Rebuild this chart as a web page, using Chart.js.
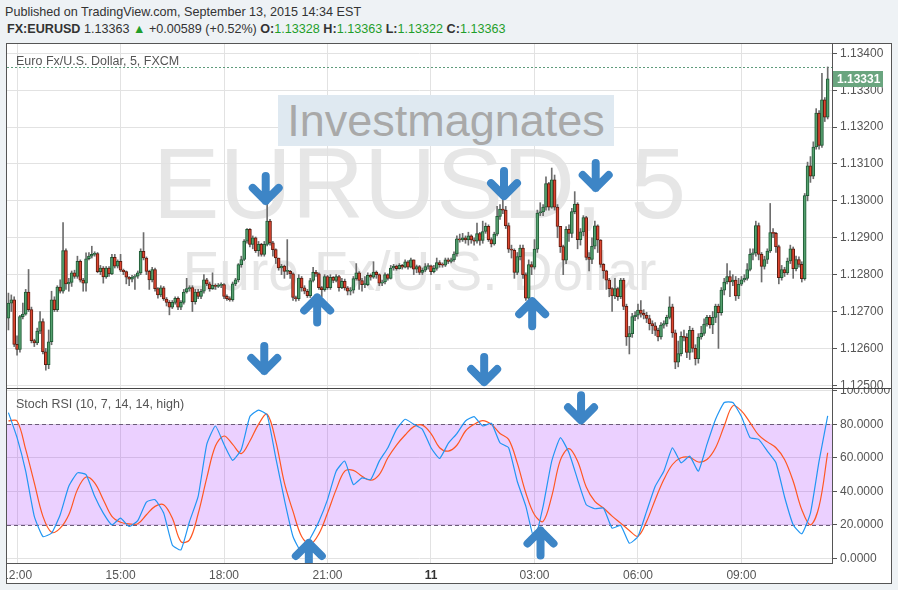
<!DOCTYPE html>
<html>
<head>
<meta charset="utf-8">
<script src="https://cdn.jsdelivr.net/npm/chart.js@4.4.0/dist/chart.umd.min.js"></script>
<style>
  body { margin: 0; width: 898px; height: 590px; overflow: hidden; position: relative; background: #eef2f5; font-family: "Liberation Sans", Arial, sans-serif; }
  #h1 { position: absolute; left: 5px; top: 5px; font-size: 12.6px; color: #333; white-space: nowrap; }
  #h2 { position: absolute; left: 7px; top: 22px; font-size: 12.6px; color: #333; white-space: nowrap; }
  #h2 .g { color: #1f9e2a; }
  #frame { position: absolute; left: 6px; top: 43px; width: 884px; height: 539px; border: 1px solid #555; background: #fff; overflow: hidden; }
  #price { position: absolute; left: 0; top: 0; }
  #sep { position: absolute; left: 0; top: 344px; width: 884px; height: 1px; background: #444; }
  #stoch { position: absolute; left: 0; top: 345px; }
  .lbl { position: absolute; left: 9px; font-size: 12.5px; color: #555; white-space: nowrap; }
  #brand { position: absolute; left: 278px; top: 95px; width: 336px; height: 51px; background: #dfe9f1; color: #a9a9a9; font-size: 45px; line-height: 51px; text-align: center; }
</style>
</head>
<body>
<div id="h1">Published on TradingView.com, September 13, 2015 14:34 EST</div>
<div id="h2"><b>FX:EURUSD</b> 1.13363 <span class="g">&#9650;</span> +0.00589 (+0.52%) <b>O:</b><span class="g">1.13328</span> <b>H:</b><span class="g">1.13363</span> <b>L:</b><span class="g">1.13322</span> <b>C:</b><span class="g">1.13363</span></div>
<div id="frame">
  <canvas id="price" width="884" height="344"></canvas>
  <div id="sep"></div>
  <canvas id="stoch" width="884" height="194"></canvas>
  <div class="lbl" style="top:10px">Euro Fx/U.S. Dollar, 5, FXCM</div>
  <div class="lbl" style="top:353px">Stoch RSI (10, 7, 14, 14, high)</div>
</div>
<div id="brand">Investmagnates</div>
<script>
// DATA

const firstOpen = 1.12682;

const closes = [
  1.12723, 1.12732, 1.12611, 1.12597, 1.12686, 1.12693, 1.12753, 1.12705, 1.12621, 1.12615,
  1.12647, 1.12673, 1.12591, 1.12556, 1.12618, 1.12732, 1.12705, 1.12766, 1.12755, 1.12865,
  1.12775, 1.12779, 1.12805, 1.12795, 1.12836, 1.12785, 1.12777, 1.12843, 1.12850, 1.12855,
  1.12857, 1.12808, 1.12818, 1.12794, 1.12818, 1.12802, 1.12847, 1.12823, 1.12836, 1.12812,
  1.12808, 1.12793, 1.12788, 1.12793, 1.12796, 1.12805, 1.12863,
  1.12845, 1.12809, 1.12786, 1.12814, 1.12762, 1.12745, 1.12764, 1.12734, 1.12725, 1.12712,
  1.12725, 1.12736, 1.12712, 1.12725, 1.12753, 1.12762, 1.12765, 1.12727, 1.12753, 1.12741,
  1.12755, 1.12786, 1.12775, 1.12762, 1.12771, 1.12768, 1.12771, 1.12773, 1.12741, 1.12735,
  1.12732, 1.12775, 1.12786, 1.12827, 1.12841, 1.12891, 1.12923, 1.12882, 1.12900, 1.12865,
  1.12882, 1.12855, 1.12882, 1.12945, 1.12886, 1.12868, 1.12845,
  1.12818, 1.12823, 1.12809, 1.12809, 1.12802, 1.12738, 1.12735, 1.12791, 1.12764, 1.12755,
  1.12743, 1.12784, 1.12806, 1.12802, 1.12765, 1.12759, 1.12795, 1.12765, 1.12793, 1.12784,
  1.12795, 1.12765, 1.12782, 1.12764, 1.12755, 1.12758, 1.12789, 1.12805, 1.12784, 1.12773,
  1.12773, 1.12798, 1.12793, 1.12807, 1.12800, 1.12777, 1.12780, 1.12800, 1.12790, 1.12818,
  1.12823, 1.12816, 1.12825, 1.12820, 1.12835, 1.12820, 1.12840,
  1.12815, 1.12822, 1.12806, 1.12812, 1.12822, 1.12824, 1.12808, 1.12817, 1.12833, 1.12827,
  1.12826, 1.12840, 1.12836, 1.12840, 1.12856, 1.12897, 1.12894, 1.12900, 1.12894, 1.12905,
  1.12894, 1.12891, 1.12911, 1.12893, 1.12917, 1.12931, 1.12895, 1.12883, 1.12910, 1.12958,
  1.12978, 1.12975, 1.12933, 1.12869, 1.12866, 1.12806, 1.12849, 1.12872, 1.12800, 1.12736,
  1.12827, 1.12820, 1.12869, 1.12967, 1.12970, 1.12983, 1.13047, 1.12983, 1.13057, 1.12983,
  1.12931,
  1.12876, 1.12839, 1.12923, 1.12912, 1.12971, 1.12991, 1.12895, 1.12916, 1.12955, 1.12847,
  1.12841, 1.12877, 1.12932, 1.12894, 1.12828, 1.12810, 1.12785, 1.12762, 1.12742, 1.12762,
  1.12740, 1.12785, 1.12714, 1.12631, 1.12640, 1.12686, 1.12690, 1.12704, 1.12695, 1.12690,
  1.12681, 1.12667, 1.12661, 1.12649, 1.12631, 1.12663, 1.12667, 1.12684, 1.12713, 1.12642,
  1.12563, 1.12586, 1.12633, 1.12630, 1.12589, 1.12649, 1.12600, 1.12572, 1.12631, 1.12641,
  1.12666, 1.12684, 1.12664, 1.12684, 1.12715, 1.12697, 1.12758, 1.12780, 1.12795, 1.12780,
  1.12785, 1.12742, 1.12774, 1.12786, 1.12790, 1.12814, 1.12855, 1.12859, 1.12933, 1.12855,
  1.12822, 1.12841, 1.12864, 1.12914, 1.12912, 1.12876, 1.12792, 1.12814, 1.12805, 1.12837,
  1.12870, 1.12816, 1.12841, 1.12828, 1.12789, 1.13014, 1.13095, 1.13067, 1.13146, 1.13238,
  1.13150, 1.13274, 1.13227, 1.13331
];

const highs = [
  1.12750, 1.12745, 1.12740, 1.12634, 1.12690, 1.12723, 1.12760, 1.12814, 1.12712, 1.12625,
  1.12655, 1.12700, 1.12680, 1.12600, 1.12650, 1.12755, 1.12740, 1.12770, 1.12786, 1.12941,
  1.12870, 1.12790, 1.12810, 1.12812, 1.12850, 1.12840, 1.12790, 1.12859, 1.12860, 1.12877,
  1.12862, 1.12860, 1.12825, 1.12822, 1.12822, 1.12822, 1.12855, 1.12855, 1.12840, 1.12855,
  1.12815, 1.12810, 1.12795, 1.12798, 1.12800, 1.12810, 1.12870,
  1.12914, 1.12848, 1.12812, 1.12820, 1.12818, 1.12765, 1.12770, 1.12768, 1.12738, 1.12730,
  1.12730, 1.12740, 1.12740, 1.12730, 1.12760, 1.12790, 1.12770, 1.12770, 1.12760, 1.12760,
  1.12760, 1.12800, 1.12790, 1.12780, 1.12805, 1.12775, 1.12776, 1.12778, 1.12776, 1.12745,
  1.12740, 1.12780, 1.12790, 1.12830, 1.12850, 1.12895, 1.12925, 1.12925, 1.12905, 1.12902,
  1.12890, 1.12885, 1.12890, 1.13005, 1.12950, 1.12890, 1.12870,
  1.12845, 1.12828, 1.12826, 1.12895, 1.12812, 1.12805, 1.12742, 1.12800, 1.12795, 1.12770,
  1.12760, 1.12790, 1.12820, 1.12812, 1.12805, 1.12768, 1.12800, 1.12798, 1.12800, 1.12795,
  1.12800, 1.12798, 1.12790, 1.12788, 1.12768, 1.12765, 1.12795, 1.12830, 1.12808, 1.12790,
  1.12795, 1.12805, 1.12802, 1.12835, 1.12810, 1.12802, 1.12785, 1.12805, 1.12802, 1.12825,
  1.12828, 1.12826, 1.12830, 1.12828, 1.12840, 1.12838, 1.12845,
  1.12822, 1.12826, 1.12825, 1.12818, 1.12830, 1.12830, 1.12826, 1.12825, 1.12845, 1.12838,
  1.12832, 1.12845, 1.12845, 1.12845, 1.12862, 1.12905, 1.12910, 1.12912, 1.12905, 1.12915,
  1.12908, 1.12900, 1.12940, 1.12915, 1.12945, 1.12940, 1.12935, 1.12900, 1.12915, 1.12985,
  1.12990, 1.13035, 1.12985, 1.12940, 1.12880, 1.12870, 1.12860, 1.12880, 1.12880, 1.12805,
  1.12840, 1.12835, 1.12895, 1.12975, 1.12995, 1.12990, 1.13065, 1.13050, 1.13089, 1.13070,
  1.12990,
  1.12930, 1.12880, 1.12930, 1.12935, 1.12980, 1.13025, 1.12995, 1.12925, 1.12960, 1.12958,
  1.12860, 1.12900, 1.12945, 1.12935, 1.12895, 1.12830, 1.12812, 1.12790, 1.12765, 1.12790,
  1.12765, 1.12790, 1.12790, 1.12720, 1.12660, 1.12695, 1.12700, 1.12720, 1.12730, 1.12705,
  1.12698, 1.12690, 1.12675, 1.12670, 1.12655, 1.12670, 1.12675, 1.12690, 1.12740, 1.12720,
  1.12650, 1.12620, 1.12645, 1.12650, 1.12640, 1.12660, 1.12655, 1.12610, 1.12640, 1.12660,
  1.12680, 1.12690, 1.12690, 1.12700, 1.12720, 1.12720, 1.12765, 1.12790, 1.12830, 1.12810,
  1.12800, 1.12795, 1.12790, 1.12795, 1.12800, 1.12830, 1.12870, 1.12870, 1.12945, 1.12940,
  1.12860, 1.12850, 1.12870, 1.12993, 1.12925, 1.12915, 1.12880, 1.12825, 1.12820, 1.12845,
  1.12880, 1.12875, 1.12850, 1.12848, 1.12835, 1.13020, 1.13105, 1.13120, 1.13160, 1.13250,
  1.13245, 1.13346, 1.13280, 1.13363
];

const lows = [
  1.12650, 1.12700, 1.12605, 1.12582, 1.12590, 1.12680, 1.12690, 1.12700, 1.12615, 1.12605,
  1.12610, 1.12640, 1.12585, 1.12541, 1.12545, 1.12610, 1.12700, 1.12700, 1.12750, 1.12750,
  1.12760, 1.12755, 1.12768, 1.12790, 1.12790, 1.12780, 1.12755, 1.12755, 1.12840, 1.12845,
  1.12850, 1.12805, 1.12800, 1.12777, 1.12790, 1.12795, 1.12800, 1.12818, 1.12818, 1.12808,
  1.12800, 1.12775, 1.12770, 1.12780, 1.12760, 1.12790, 1.12800,
  1.12840, 1.12800, 1.12760, 1.12780, 1.12755, 1.12736, 1.12740, 1.12730, 1.12715, 1.12691,
  1.12708, 1.12720, 1.12705, 1.12705, 1.12720, 1.12750, 1.12755, 1.12700, 1.12720, 1.12735,
  1.12735, 1.12750, 1.12770, 1.12755, 1.12760, 1.12760, 1.12765, 1.12765, 1.12735, 1.12730,
  1.12728, 1.12728, 1.12770, 1.12780, 1.12820, 1.12838, 1.12885, 1.12875, 1.12870, 1.12860,
  1.12850, 1.12850, 1.12850, 1.12878, 1.12880, 1.12850, 1.12830,
  1.12812, 1.12800, 1.12790, 1.12800, 1.12790, 1.12730, 1.12728, 1.12730, 1.12755, 1.12748,
  1.12738, 1.12738, 1.12780, 1.12795, 1.12760, 1.12740, 1.12755, 1.12760, 1.12760, 1.12778,
  1.12780, 1.12755, 1.12762, 1.12758, 1.12745, 1.12745, 1.12750, 1.12785, 1.12760, 1.12755,
  1.12765, 1.12770, 1.12785, 1.12790, 1.12790, 1.12770, 1.12770, 1.12775, 1.12785, 1.12788,
  1.12812, 1.12812, 1.12815, 1.12815, 1.12818, 1.12815, 1.12818,
  1.12800, 1.12805, 1.12800, 1.12800, 1.12808, 1.12815, 1.12800, 1.12805, 1.12812, 1.12820,
  1.12820, 1.12822, 1.12830, 1.12832, 1.12836, 1.12850, 1.12888, 1.12890, 1.12885, 1.12880,
  1.12885, 1.12880, 1.12885, 1.12880, 1.12885, 1.12912, 1.12890, 1.12875, 1.12880, 1.12905,
  1.12950, 1.12965, 1.12925, 1.12860, 1.12845, 1.12790, 1.12800, 1.12840, 1.12790, 1.12730,
  1.12730, 1.12800, 1.12815, 1.12860, 1.12960, 1.12960, 1.12975, 1.12975, 1.12980, 1.12975,
  1.12900,
  1.12860, 1.12800, 1.12830, 1.12890, 1.12900, 1.12965, 1.12870, 1.12880, 1.12905, 1.12840,
  1.12810, 1.12830, 1.12870, 1.12860, 1.12820, 1.12790, 1.12760, 1.12740, 1.12700, 1.12735,
  1.12730, 1.12735, 1.12705, 1.12608, 1.12585, 1.12630, 1.12675, 1.12680, 1.12685, 1.12680,
  1.12670, 1.12650, 1.12640, 1.12635, 1.12620, 1.12625, 1.12655, 1.12660, 1.12680, 1.12630,
  1.12545, 1.12550, 1.12580, 1.12620, 1.12575, 1.12570, 1.12590, 1.12555, 1.12560, 1.12625,
  1.12635, 1.12660, 1.12655, 1.12640, 1.12670, 1.12600, 1.12690, 1.12745, 1.12775, 1.12740,
  1.12770, 1.12730, 1.12735, 1.12770, 1.12780, 1.12785, 1.12810, 1.12840, 1.12850, 1.12840,
  1.12780, 1.12815, 1.12830, 1.12860, 1.12900, 1.12860, 1.12775, 1.12785, 1.12795, 1.12800,
  1.12830, 1.12790, 1.12810, 1.12820, 1.12780, 1.12785, 1.13000, 1.13050, 1.13060, 1.13140,
  1.13140, 1.13145, 1.13215, 1.13222
];

// Stoch RSI, one reading every 3 bars
const stochStep = 3;
const stochK = [
  87, 72, 52, 25, 13, 15, 26, 43, 51, 50, 37, 27, 20, 24, 19, 22.5, 33.6, 35, 27, 8,
  5, 22, 37, 68, 79, 68, 58.5, 65, 84.6, 88.5, 85.5, 60, 35, 13, 3.6, 12, 22, 35, 52, 58,
  44, 48, 47, 58, 66, 77, 83, 80, 77, 66, 59.6, 68.6, 74.5, 82, 84.6, 79, 80.6, 69, 66, 46,
  31, 11, 31, 58, 72, 63, 47, 32, 29.6, 30, 18, 19.6, 9, 13, 28, 43, 52, 66, 57, 61,
  52, 68, 83, 93, 93, 84.6, 72, 71, 64, 57, 36.6, 20, 14.6, 27, 58, 85
];
const stochD = [
  82, 82, 65, 45, 25, 15.5, 18, 26, 41, 48.5, 45, 35, 25, 21.5, 20.5, 20.6, 26, 31, 32, 24,
  10, 11, 26.6, 48, 67, 73, 68, 62.5, 70, 80, 86, 70, 45, 28, 13, 8.5, 14.6, 27, 41, 52,
  52.5, 49, 46.6, 50, 60, 67.6, 73.6, 78.6, 79.5, 74.5, 66, 64, 67.5, 76, 80, 82.2, 80, 74.5, 71, 57,
  39, 26, 22, 37, 58.6, 65.5, 58, 42.6, 34, 30, 25.2, 21, 16.6, 13.2, 22, 35, 47, 56, 60, 60.3,
  57.5, 59, 66, 79, 91, 88, 81, 73.5, 69.5, 66, 59, 46, 29, 20, 31, 63
];

const priceTicks = [1.125, 1.126, 1.127, 1.128, 1.129, 1.130, 1.131, 1.132, 1.133, 1.134];
const stochTicks = [0, 20, 40, 60, 80, 100];
const tickLabels = ['12:00', '15:00', '18:00', '21:00', '11', '03:00', '06:00', '09:00'];
const sessionHigh = 1.13363;

// blue marker arrows: bar position, value at the arrow tip, direction
const priceArrows = [
  { bar: 89.5, value: 1.12989, dir: 'down' },
  { bar: 172.4, value: 1.13002, dir: 'down' },
  { bar: 204.3, value: 1.13024, dir: 'down' },
  { bar: 89, value: 1.12528, dir: 'down' },
  { bar: 165.5, value: 1.12498, dir: 'down' },
  { bar: 107.4, value: 1.12749, dir: 'up' },
  { bar: 182.2, value: 1.12739, dir: 'up' }
];
const stochArrows = [
  { bar: 199.2, value: 80, dir: 'down' },
  { bar: 104.5, value: 11.5, dir: 'up' },
  { bar: 185.1, value: 19, dir: 'up' }
];

// time slots (5 min bars from 11:45, one spare slot at the end)
const slotCount = 287;
const times = [];
for (let i = 0; i < slotCount; i++) {
  const m = (11 * 60 + 45 + i * 5) % 1440;
  times.push(String(Math.floor(m / 60)).padStart(2, '0') + ':' + String(m % 60).padStart(2, '0'));
}
const tickIdx = tickLabels.map(t => times.indexOf(t === '11' ? '00:00' : t));

// CHART HELPERS

Chart.defaults.font.family = '"Liberation Sans", Arial, sans-serif';
Chart.defaults.font.size = 12;
const gridColor = '#e2e2e2';
const axisColor = '#555';

const opens = closes.map((c, i) => i ? closes[i - 1] : firstOpen);
const isUp = closes.map((c, i) => c >= opens[i]);

function drawArrow(ctx, x, tipY, dir) {
  const s = dir === 'down' ? -1 : 1;
  const y = tipY + s * 4;
  ctx.beginPath();
  ctx.moveTo(x, y);
  ctx.lineTo(x, y + s * 25);
  ctx.moveTo(x - 13, y + s * 13);
  ctx.lineTo(x, y);
  ctx.lineTo(x + 13, y + s * 13);
  ctx.stroke();
}

function arrowPlugin(list) {
  return {
    id: 'arrows',
    afterDatasetsDraw(chart) {
      const { ctx, chartArea: a, scales } = chart;
      ctx.save();
      ctx.beginPath();
      ctx.rect(a.left, a.top, a.right - a.left, a.bottom - a.top);
      ctx.clip();
      ctx.strokeStyle = '#3d85c6';
      ctx.lineWidth = 8;
      ctx.lineCap = 'round';
      ctx.lineJoin = 'round';
      list.forEach(m => drawArrow(ctx, scales.x.getPixelForValue(m.bar), scales.y.getPixelForValue(m.value), m.dir));
      ctx.restore();
    }
  };
}

const noPad = s => { s.paddingLeft = 0; s.paddingRight = 0; s.paddingTop = 0; s.paddingBottom = 0; };

// PRICE PANEL

const watermark = {
  id: 'watermark',
  beforeDraw(chart) {
    const { ctx, chartArea: a } = chart;
    const cx = (a.left + a.right) / 2;
    ctx.save();
    ctx.textAlign = 'center';
    ctx.fillStyle = '#e6e6e6';
    ctx.font = '100px "Liberation Sans", Arial, sans-serif';
    ctx.fillText('EURUSD, 5', cx, 174);
    ctx.font = '55px "Liberation Sans", Arial, sans-serif';
    ctx.fillText('Euro Fx/U.S. Dollar', cx, 246);
    ctx.restore();
  }
};

const priceExtras = {
  id: 'priceExtras',
  beforeDatasetsDraw(chart) {
    const { ctx, chartArea: a, scales } = chart;
    const y = Math.round(scales.y.getPixelForValue(sessionHigh)) + 0.5;
    ctx.save();
    ctx.strokeStyle = '#5e9b7b';
    ctx.lineWidth = 1;
    ctx.setLineDash([2, 2]);
    ctx.beginPath();
    ctx.moveTo(a.left, y);
    ctx.lineTo(a.right, y);
    ctx.stroke();
    ctx.restore();
  },
  afterDraw(chart) {
    const { ctx, chartArea: a, scales } = chart;
    const last = closes[closes.length - 1];
    const y = Math.round(scales.y.getPixelForValue(last));
    ctx.save();
    ctx.fillStyle = '#6aa57f';
    ctx.fillRect(a.right + 1, y - 8, 50, 16);
    ctx.fillStyle = '#fff';
    ctx.font = 'bold 12px "Liberation Sans", Arial, sans-serif';
    ctx.textBaseline = 'middle';
    ctx.fillText(last.toFixed(5), a.right + 5, y + 0.5);
    ctx.restore();
  }
};

new Chart(document.getElementById('price'), {
  type: 'bar',
  data: {
    labels: times,
    datasets: [{
      data: closes.map((c, i) => [opens[i], c]),
      backgroundColor: isUp.map(u => u ? '#54a06e' : '#dc4530'),
      borderColor: isUp.map(u => u ? '#1f5a35' : '#5e1c10'),
      borderWidth: 1,
      borderSkipped: false,
      barThickness: 3,
      minBarLength: 1,
      grouped: false,
      order: 0
    }, {
      data: lows.map((l, i) => [Math.min(l, opens[i], closes[i]), Math.max(highs[i], opens[i], closes[i])]),
      backgroundColor: '#6d6d6d',
      borderWidth: 0,
      barThickness: 1,
      grouped: false,
      order: 1
    }]
  },
  options: {
    responsive: false,
    animation: false,
    devicePixelRatio: 1,
    layout: { padding: 0 },
    plugins: { legend: { display: false }, tooltip: { enabled: false } },
    scales: {
      x: {
        offset: true,
        grid: { color: gridColor, offset: false, drawTicks: false },
        border: { display: false },
        ticks: { display: false },
        afterBuildTicks: s => { s.ticks = tickIdx.map(v => ({ value: v })); },
        afterFit: s => { s.height = 0; noPad(s); }
      },
      y: {
        position: 'right',
        min: 1.1249271,
        max: 1.1342521,
        grid: { color: gridColor, tickColor: axisColor, tickLength: 5 },
        border: { color: axisColor },
        ticks: { color: axisColor, padding: 3, callback: v => v.toFixed(5) },
        afterBuildTicks: s => { s.ticks = priceTicks.map(v => ({ value: v })); },
        afterFit: s => { s.width = 59; noPad(s); }
      }
    }
  },
  plugins: [watermark, priceExtras, arrowPlugin(priceArrows)]
});

// STOCH RSI PANEL

const band = {
  id: 'band',
  beforeDatasetsDraw(chart) {
    const { ctx, chartArea: a, scales } = chart;
    const y80 = Math.round(scales.y.getPixelForValue(80)) + 0.5;
    const y20 = Math.round(scales.y.getPixelForValue(20)) + 0.5;
    ctx.save();
    ctx.fillStyle = 'rgba(153, 21, 255, 0.2)';
    ctx.fillRect(a.left, y80, a.right - a.left, y20 - y80);
    ctx.strokeStyle = '#6a5a78';
    ctx.lineWidth = 1;
    ctx.setLineDash([4, 3]);
    ctx.beginPath();
    ctx.moveTo(a.left, y80); ctx.lineTo(a.right, y80);
    ctx.moveTo(a.left, y20); ctx.lineTo(a.right, y20);
    ctx.stroke();
    ctx.restore();
  }
};

new Chart(document.getElementById('stoch'), {
  type: 'line',
  data: {
    datasets: [{
      data: stochK.map((v, i) => ({ x: i * stochStep, y: v })),
      borderColor: '#2196f3',
      borderWidth: 1.2,
      pointRadius: 0,
      tension: 0.15
    }, {
      data: stochD.map((v, i) => ({ x: i * stochStep, y: v })),
      borderColor: '#ff5722',
      borderWidth: 1.2,
      pointRadius: 0,
      tension: 0.35
    }]
  },
  options: {
    responsive: false,
    animation: false,
    devicePixelRatio: 1,
    layout: { padding: 0 },
    plugins: { legend: { display: false }, tooltip: { enabled: false } },
    scales: {
      x: {
        type: 'linear',
        min: -0.5,
        max: slotCount - 0.5,
        grid: { color: gridColor, drawTicks: false },
        border: { color: axisColor },
        ticks: {
          padding: 5,
          maxRotation: 0,
          autoSkip: false,
          color: ctx => tickLabels[ctx.index] === '11' ? '#333' : axisColor,
          font: ctx => ({ size: 12, weight: tickLabels[ctx.index] === '11' ? 'bold' : 'normal' }),
          callback: (v, i) => tickLabels[i]
        },
        afterBuildTicks: s => { s.ticks = tickIdx.map(v => ({ value: v })); },
        afterFit: s => { s.height = 20; noPad(s); }
      },
      y: {
        position: 'right',
        min: -2.806,
        max: 101.075,
        grid: { color: gridColor, tickColor: axisColor, tickLength: 5 },
        border: { color: axisColor },
        ticks: { color: axisColor, padding: 3, callback: v => v.toFixed(4) },
        afterBuildTicks: s => { s.ticks = stochTicks.map(v => ({ value: v })); },
        afterFit: s => { s.width = 59; noPad(s); }
      }
    }
  },
  plugins: [band, arrowPlugin(stochArrows)]
});
</script>
</body>
</html>
